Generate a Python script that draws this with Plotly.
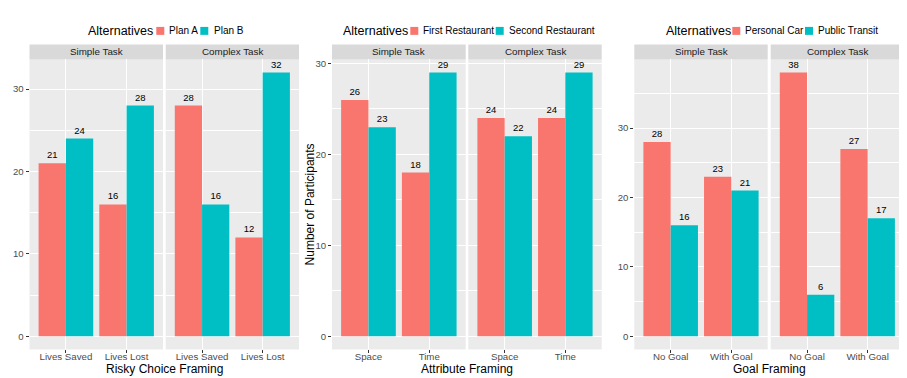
import plotly.graph_objects as go

# ---- data ----
facets = ["Simple Task", "Complex Task"]

risky_cats = ["Lives Saved", "Lives Lost"]
risky_names = ["Plan A", "Plan B"]
risky_simple_a = [21, 16]
risky_simple_b = [24, 28]
risky_complex_a = [28, 12]
risky_complex_b = [16, 32]

attr_cats = ["Space", "Time"]
attr_names = ["First Restaurant", "Second Restaurant"]
attr_simple_a = [26, 18]
attr_simple_b = [23, 29]
attr_complex_a = [24, 24]
attr_complex_b = [22, 29]

goal_cats = ["No Goal", "With Goal"]
goal_names = ["Personal Car", "Public Transit"]
goal_simple_a = [28, 23]
goal_simple_b = [16, 21]
goal_complex_a = [38, 27]
goal_complex_b = [6, 17]

titles = ["Risky Choice Framing", "Attribute Framing", "Goal Framing"]
legend_title = "Alternatives"
y_title = "Number of Participants"

# ---- layout constants (page has an 8px body margin) ----
OX, OY = 8, 8
W, H = 907 - OX, 378 - OY
FONT = "Liberation Sans"
COL_A = "#F8766D"
COL_B = "#00BFC4"

panels = [
    dict(cats=risky_cats, names=risky_names,
         vals=[(risky_simple_a, risky_simple_b), (risky_complex_a, risky_complex_b)],
         xdom=[(29.5, 163), (165.7, 299)], yr=[-1.6, 33.6], title=titles[0],
         leg=[87.3, 156.3, 168.3, 200.3, 212.7]),
    dict(cats=attr_cats, names=attr_names,
         vals=[(attr_simple_a, attr_simple_b), (attr_complex_a, attr_complex_b)],
         xdom=[(332, 465.7), (468.3, 601.7)], yr=[-1.45, 30.45], title=titles[1],
         leg=[341.7, 410.3, 422.3, 495.7, 507.7]),
    dict(cats=goal_cats, names=goal_names,
         vals=[(goal_simple_a, goal_simple_b), (goal_complex_a, goal_complex_b)],
         xdom=[(634.3, 767.7), (770.7, 904)], yr=[-1.9, 39.9], title=titles[2],
         leg=[665, 732.3, 744.3, 805, 817]),
]

plot_top, plot_bot = 57.7, 349.3
strip_top = 42.7
leg_y = 29

def fx(px):
    return (px - OX) / W

def fy(py):
    return 1 - (py - OY) / H

fig = go.Figure()
annotations = []
shapes = []
layout_axes = {}

ax_i = 0
for p_i, p in enumerate(panels):
    for f_i in range(2):
        ax_i += 1
        xa = "x" if ax_i == 1 else f"x{ax_i}"
        ya = "y" if ax_i == 1 else f"y{ax_i}"
        a_vals, b_vals = p["vals"][f_i]
        for name, vals, col in [(p["names"][0], a_vals, COL_A), (p["names"][1], b_vals, COL_B)]:
            fig.add_trace(go.Bar(
                x=p["cats"], y=vals, name=name, marker=dict(color=col, line=dict(width=0)),
                text=vals, textposition="outside", cliponaxis=False,
                textfont=dict(size=9.5, color="#000000", family=FONT),
                xaxis=xa, yaxis=ya, showlegend=False,
            ))
        x0, x1 = p["xdom"][f_i]
        xkey = "xaxis" if ax_i == 1 else f"xaxis{ax_i}"
        ykey = "yaxis" if ax_i == 1 else f"yaxis{ax_i}"
        layout_axes[xkey] = dict(
            domain=[fx(x0), fx(x1)], anchor=ya, type="category",
            range=[-0.6, 1.6], showgrid=True, gridcolor="white", gridwidth=1,
            ticks="outside", ticklen=3, tickcolor="#333333", tickwidth=1,
            ticklabelstandoff=-5,
            tickfont=dict(size=9.7, color="#4D4D4D", family=FONT),
            showline=False, zeroline=False, fixedrange=True,
        )
        layout_axes[ykey] = dict(
            domain=[fy(plot_bot), fy(plot_top)], anchor=xa, range=p["yr"],
            dtick=10, tick0=0, showgrid=True, gridcolor="white", gridwidth=1,
            minor=dict(dtick=10, tick0=5, showgrid=True, gridcolor="white", gridwidth=0.5),
            ticks="outside" if f_i == 0 else "", ticklen=3, tickcolor="#333333",
            showticklabels=(f_i == 0),
            tickfont=dict(size=9.6, color="#4D4D4D", family=FONT),
            zeroline=False, showline=False, fixedrange=True,
        )
        # strip
        shapes.append(dict(type="rect", xref="paper", yref="paper",
                           x0=fx(x0), x1=fx(x1), y0=fy(plot_top), y1=fy(strip_top),
                           fillcolor="#D9D9D9", line=dict(width=0), layer="below"))
        annotations.append(dict(text=facets[f_i], xref="paper", yref="paper",
                                x=fx((x0 + x1) / 2), y=fy((plot_top + strip_top) / 2),
                                showarrow=False, xanchor="center", yanchor="middle",
                                font=dict(size=9.8, color="#1A1A1A", family=FONT)))
    # x-axis title
    cx = (p["xdom"][0][0] + p["xdom"][1][1]) / 2
    annotations.append(dict(text=p["title"], xref="paper", yref="paper",
                            x=fx(cx), y=fy(369), showarrow=False,
                            xanchor="center", yanchor="middle",
                            font=dict(size=12, color="#000000", family=FONT)))
    # legend (title, keys, labels)
    lt, k1, t1, k2, t2 = p["leg"]
    annotations.append(dict(text=legend_title, xref="paper", yref="paper",
                            x=fx(lt - 1), y=fy(leg_y), showarrow=False,
                            xanchor="left", yanchor="middle",
                            font=dict(size=12.5, color="#000000", family=FONT)))
    for kx, tx, name, col in [(k1, t1, p["names"][0], COL_A), (k2, t2, p["names"][1], COL_B)]:
        shapes.append(dict(type="rect", xref="paper", yref="paper",
                           x0=fx(kx), x1=fx(kx + 8), y0=fy(leg_y + 4), y1=fy(leg_y - 4),
                           fillcolor=col, line=dict(width=0)))
        annotations.append(dict(text=name, xref="paper", yref="paper",
                                x=fx(tx - 1), y=fy(leg_y), showarrow=False,
                                xanchor="left", yanchor="middle",
                                font=dict(size=10, color="#000000", family=FONT)))

annotations.append(dict(text=y_title, xref="paper", yref="paper",
                        x=fx(310), y=fy((plot_top + plot_bot) / 2), showarrow=False,
                        textangle=-90, xanchor="center", yanchor="middle",
                        font=dict(size=12, color="#000000", family=FONT)))

fig.update_layout(
    width=W, height=H, margin=dict(l=0, r=0, t=0, b=0),
    paper_bgcolor="white", plot_bgcolor="#EBEBEB",
    barmode="group", bargap=0.1, bargroupgap=0,
    font=dict(family=FONT), showlegend=False,
    annotations=annotations, shapes=shapes,
    **layout_axes,
)

fig.write_html("out.html")
